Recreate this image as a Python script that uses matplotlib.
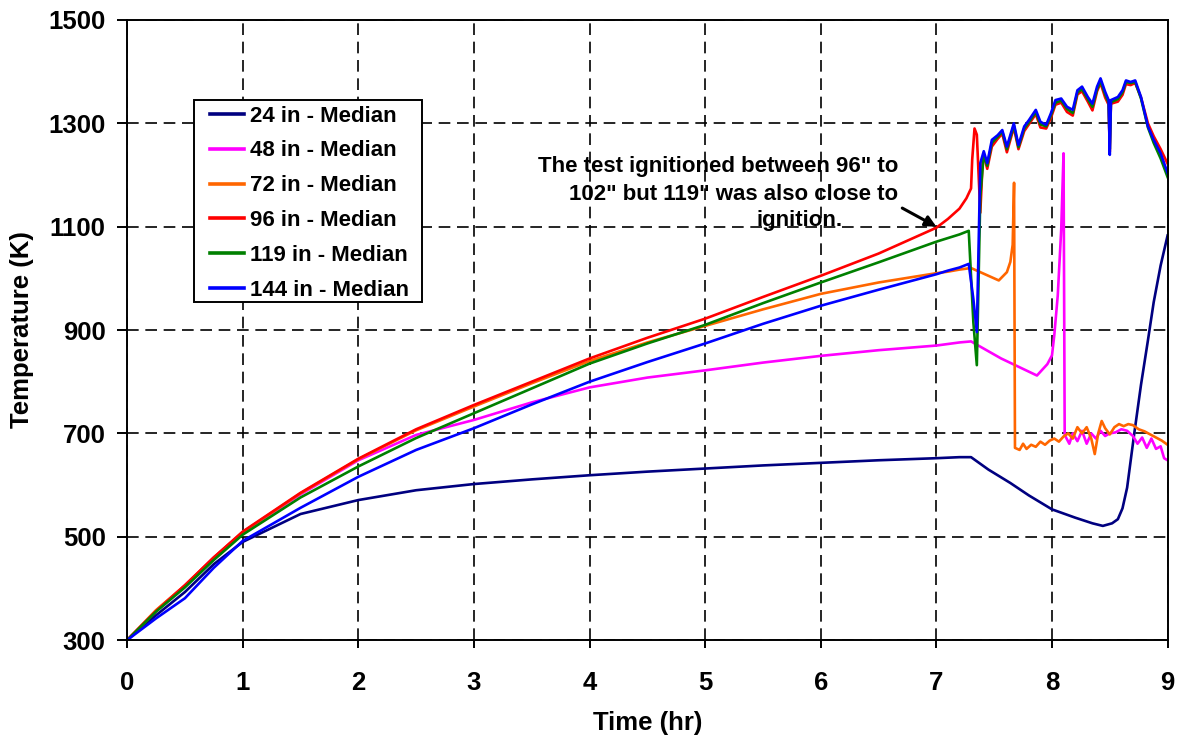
import matplotlib
matplotlib.use("Agg")
import matplotlib.pyplot as plt
from matplotlib.patches import Rectangle

plt.rcParams['font.family'] = ['Liberation Sans', 'DejaVu Sans']
plt.rcParams['font.weight'] = 'bold'

# smooth heating part (0 - 7 hr)
t_main = [0, 0.25, 0.5, 0.75, 1, 1.5, 2, 2.5, 3, 3.5, 4, 4.5, 5, 5.5, 6, 6.5, 7]
T24 = [300, 348, 393, 447, 490, 544, 571, 590, 602, 611, 619, 626, 632, 638, 643, 648, 652]
T48 = [300, 357, 406, 460, 508, 582, 648, 697, 726, 760, 789, 808, 822, 837, 850, 861, 870]
T72 = [300, 358, 406, 460, 509, 584, 650, 706, 752, 797, 840, 876, 908, 940, 970, 992, 1010]
T96 = [300, 356, 406, 460, 510, 585, 651, 708, 755, 800, 845, 885, 922, 964, 1005, 1048, 1098]
T119 = [300, 355, 402, 455, 504, 576, 636, 691, 739, 787, 835, 874, 910, 952, 992, 1031, 1071]
T144 = [300, 342, 381, 440, 492, 556, 616, 668, 710, 756, 800, 838, 874, 912, 947, 978, 1008]

# after 7 hr
t24_late = [7.1, 7.2, 7.3, 7.45, 7.64, 7.8, 8.0, 8.2, 8.35, 8.44, 8.52, 8.57, 8.61,
            8.65, 8.71, 8.77, 8.83, 8.88, 8.94, 9.0]
T24_late = [653, 654, 654, 630, 604, 580, 553, 537, 526, 521, 526, 534, 555,
            595, 697, 794, 880, 954, 1025, 1083]

t48_late = [7.1, 7.2, 7.3, 7.56, 7.87, 7.96, 8.0, 8.02, 8.05, 8.08, 8.10, 8.11,
            8.15, 8.18, 8.22, 8.26, 8.30, 8.34, 8.38, 8.42, 8.46, 8.50, 8.55,
            8.60, 8.65, 8.70, 8.74, 8.78, 8.82, 8.86, 8.90, 8.94, 8.97, 9.0]
T48_late = [873, 876, 878, 845, 812, 834, 851, 890, 967, 1095, 1242, 697,
            680, 700, 685, 705, 680, 700, 690, 705, 695, 700, 702,
            708, 705, 695, 680, 692, 672, 690, 670, 675, 652, 648]

t72_late = [7.1, 7.2, 7.3, 7.4, 7.54, 7.61, 7.64, 7.66, 7.672, 7.68,
            7.72, 7.75, 7.78, 7.82, 7.86, 7.90, 7.94, 7.98, 8.02, 8.06, 8.10,
            8.14, 8.18, 8.22, 8.26, 8.30, 8.34, 8.37, 8.40, 8.43, 8.46, 8.50,
            8.54, 8.58, 8.62, 8.66, 8.70, 8.75, 8.80, 8.85, 8.90, 8.95, 9.0]
T72_late = [1013, 1017, 1020, 1010, 996, 1012, 1032, 1065, 1185, 672,
            668, 680, 670, 678, 674, 684, 678, 686, 690, 684, 694,
            700, 690, 712, 700, 712, 690, 660, 700, 724, 710, 698,
            712, 718, 714, 718, 716, 708, 704, 698, 692, 686, 678]

# burning region, shared time points for the three upper probes
t_burn = [7.41, 7.44, 7.48, 7.53, 7.57, 7.61, 7.67, 7.71, 7.76, 7.80,
          7.86, 7.90, 7.95, 7.99, 8.03, 8.08, 8.13, 8.18, 8.22, 8.26,
          8.31, 8.35, 8.39, 8.42, 8.46, 8.49, 8.50, 8.51, 8.57, 8.61,
          8.64, 8.68, 8.72, 8.77, 8.83, 8.88, 8.94, 9.00]
T96_burn = [1238, 1212, 1255, 1270, 1280, 1244, 1292, 1250, 1285, 1298,
            1318, 1292, 1290, 1310, 1336, 1340, 1322, 1315, 1356, 1362,
            1342, 1325, 1362, 1378, 1350, 1336, 1245, 1338, 1342, 1355,
            1376, 1374, 1378, 1350, 1300, 1275, 1250, 1222]
T119_burn = [1240, 1218, 1262, 1274, 1284, 1250, 1296, 1254, 1290, 1302,
             1322, 1298, 1294, 1315, 1340, 1344, 1328, 1320, 1360, 1366,
             1347, 1332, 1366, 1382, 1356, 1340, 1250, 1341, 1347, 1360,
             1380, 1378, 1380, 1348, 1292, 1262, 1232, 1196]
T144_burn = [1246, 1223, 1268, 1277, 1287, 1255, 1300, 1258, 1294, 1306,
             1326, 1303, 1297, 1319, 1345, 1348, 1332, 1326, 1364, 1371,
             1351, 1338, 1371, 1387, 1361, 1345, 1239, 1345, 1351, 1364,
             1383, 1380, 1383, 1351, 1294, 1268, 1242, 1204]

t96_ign = [7.1, 7.2, 7.26, 7.30, 7.31, 7.33, 7.35, 7.38, 7.40]
T96_ign = [1115, 1135, 1155, 1174, 1230, 1290, 1278, 1127, 1223]
t119_ign = [7.1, 7.2, 7.28, 7.32, 7.35, 7.38]
T119_ign = [1078, 1085, 1092, 915, 832, 1160]
t144_ign = [7.1, 7.2, 7.28, 7.32, 7.35, 7.38]
T144_ign = [1015, 1021, 1028, 960, 896, 1223]

labels = ['24 in - Median', '48 in - Median', '72 in - Median',
          '96 in - Median', '119 in - Median', '144 in - Median']
colors = ['#000080', '#FF00FF', '#FF6600', '#FF0000', '#008000', '#0000FF']

series = [
    (t_main + t24_late, T24 + T24_late),
    (t_main + t48_late, T48 + T48_late),
    (t_main + t72_late, T72 + T72_late),
    (t_main + t96_ign + t_burn, T96 + T96_ign + T96_burn),
    (t_main + t119_ign + t_burn, T119 + T119_ign + T119_burn),
    (t_main + t144_ign + t_burn, T144 + T144_ign + T144_burn),
]

fig = plt.figure(figsize=(11.77, 7.4), dpi=100)
ax = fig.add_axes([0.108, 0.135, 0.884, 0.838])

for (x, y), c, lab in zip(series, colors, labels):
    ax.plot(x, y, color=c, lw=1.9, label=lab)

ax.set_xlim(0, 9)
ax.set_ylim(300, 1500)
ax.set_xticks(range(0, 10))
ax.set_yticks(range(300, 1501, 200))
ax.grid(True, color='black', linestyle=(0, (7, 4)), linewidth=1.2)
for s in ax.spines.values():
    s.set_linewidth(1.4)
ax.tick_params(direction='out', width=1.4, labelsize=18.5)
ax.tick_params(axis='y', length=7, pad=8.5)
ax.tick_params(axis='x', length=6, pad=16)
for lab in ax.get_xticklabels() + ax.get_yticklabels():
    lab.set_fontweight('bold')

ax.set_xlabel('Time (hr)', fontsize=18.5, fontweight='bold', labelpad=12)
ax.set_ylabel('Temperature (K)', fontsize=18.5, fontweight='bold', labelpad=10)

# legend box drawn by hand so the inner padding can differ in x and y
box = Rectangle((0.0644, 0.545), 0.219, 0.326, transform=ax.transAxes,
                facecolor='white', edgecolor='black', linewidth=1.4, zorder=4)
ax.add_patch(box)
leg = ax.legend(loc='upper left', bbox_to_anchor=(0.0795, 0.862), fontsize=16,
                frameon=False, handlelength=1.55, borderpad=0, labelspacing=0.625,
                handletextpad=0.25, borderaxespad=0)
leg.set_zorder(5)
for txt in leg.get_texts():
    txt.set_fontweight('bold')
for h in leg.get_lines():
    h.set_linewidth(2.6)

ax.text(6.673, 1152, 'The test ignitioned between 96" to\n102" but 119" was also close to',
        ha='right', va='baseline', multialignment='right',
        fontsize=16, fontweight='bold', linespacing=1.42)
ax.text(6.19, 1102, 'ignition.', ha='right', va='baseline',
        fontsize=16, fontweight='bold')
ax.annotate('', xy=(7.0, 1100), xytext=(6.705, 1136),
            arrowprops=dict(arrowstyle='-|>', color='black', lw=2.2,
                            mutation_scale=16, shrinkA=0, shrinkB=0))

fig.savefig('out.png', dpi=100)
